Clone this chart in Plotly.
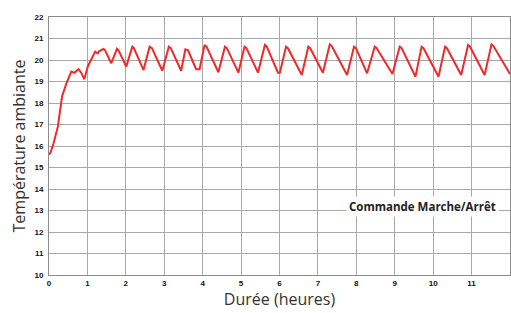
import plotly.graph_objects as go

# Duration (hours) and ambient temperature (°C)
duree = [0.00, 0.04, 0.12, 0.23, 0.34, 0.45, 0.58, 0.66, 0.72, 0.77, 0.84, 0.92,
         1.01, 1.10, 1.20, 1.27, 1.31, 1.42, 1.46, 1.62, 1.77, 1.81, 2.01, 2.17, 2.21,
         2.46, 2.62, 2.68, 2.95, 3.12, 3.17, 3.44, 3.55, 3.62, 3.83, 3.92, 4.05, 4.10,
         4.41, 4.58, 4.63, 4.93, 5.09, 5.14, 5.44, 5.62, 5.67, 5.96, 6.01, 6.17, 6.22,
         6.58, 6.75, 6.80, 7.13, 7.31, 7.36, 7.76, 7.94, 7.99, 8.28, 8.48, 8.53,
         8.94, 9.13, 9.18, 9.54, 9.70, 9.75, 10.14, 10.31, 10.36, 10.73, 10.91, 10.96,
         11.34, 11.52, 11.57, 12.00]
temperature = [15.60, 15.70, 16.13, 16.90, 18.30, 18.90, 19.46, 19.40, 19.50, 19.57, 19.40, 19.10,
               19.70, 20.00, 20.39, 20.31, 20.42, 20.51, 20.45, 19.85, 20.52, 20.45, 19.69, 20.62, 20.55,
               19.53, 20.62, 20.55, 19.50, 20.62, 20.55, 19.50, 20.50, 20.45, 19.57, 19.57, 20.70, 20.62,
               19.43, 20.62, 20.55, 19.41, 20.62, 20.55, 19.41, 20.70, 20.62, 19.41, 19.41, 20.62, 20.55,
               19.30, 20.62, 20.55, 19.41, 20.73, 20.65, 19.30, 20.62, 20.55, 19.38, 20.62, 20.55,
               19.35, 20.62, 20.55, 19.22, 20.62, 20.55, 19.22, 20.62, 20.55, 19.30, 20.70, 20.62,
               19.30, 20.73, 20.65, 19.35]

x_ticks = list(range(0, 13))
y_ticks = list(range(10, 23))

fig = go.Figure()
fig.add_trace(go.Scatter(x=duree, y=temperature, mode="lines",
                         line=dict(color="#EE2A2A", width=2), showlegend=False))

axis_common = dict(showgrid=True, gridcolor="#A8A8A8", gridwidth=1,
                   showline=True, linecolor="#8C8C8C", linewidth=1, mirror=True,
                   zeroline=False, ticks="",
                   tickfont=dict(family="Arial, Liberation Sans", size=8, color="#111111", weight="bold"))

fig.update_xaxes(range=[0, 12.001], tickvals=x_ticks, ticktext=[str(v) for v in x_ticks],
                 title=dict(text="Durée (heures)", font=dict(family="Open Sans", size=16, color="#333333"),
                            standoff=5),
                 **axis_common)
fig.update_yaxes(range=[10, 22], tickvals=y_ticks, ticktext=[str(v) for v in y_ticks],
                 ticklabelstandoff=3,
                 title=dict(text="Température ambiante", font=dict(family="Open Sans", size=16, color="#333333"),
                            standoff=4),
                 **axis_common)

fig.add_annotation(x=9.72, y=13.2, xref="x", yref="y", text="<b>Commande Marche/Arrêt</b>",
                   showarrow=False, font=dict(family="Open Sans", size=11.5, color="#222222"),
                   bgcolor="white", borderpad=2)

fig.update_layout(width=511, height=313, margin=dict(l=49, r=1, t=17, b=38),
                  paper_bgcolor="white", plot_bgcolor="white")

fig.write_html("out.html", config={"displayModeBar": False},
               post_script="document.body.style.margin='0';")
